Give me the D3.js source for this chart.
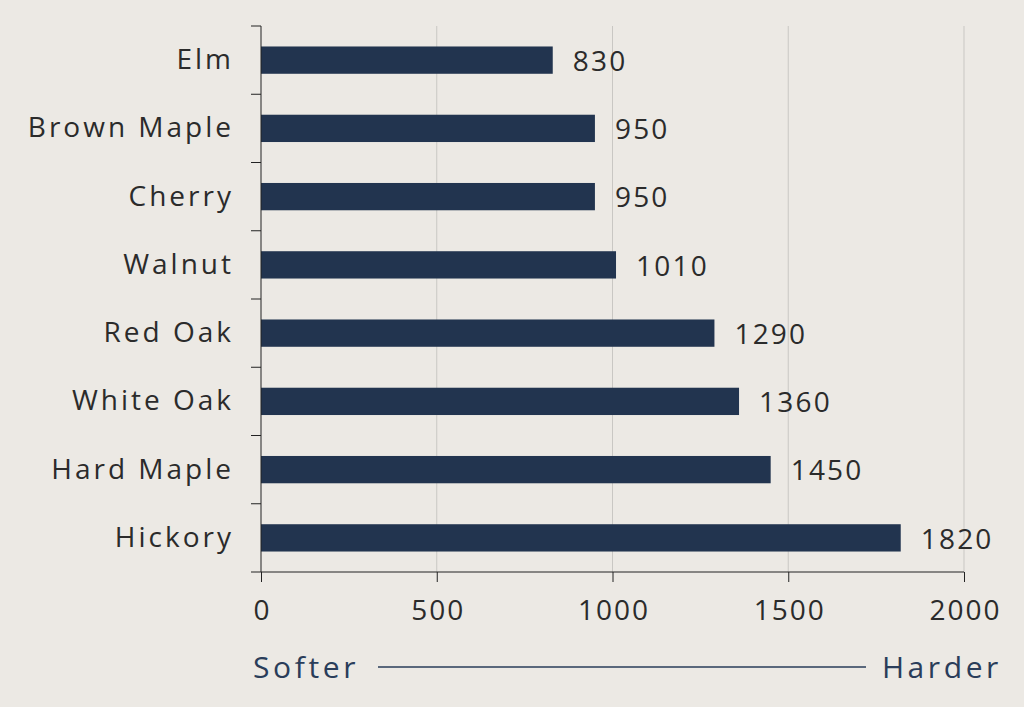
<!DOCTYPE html>
<html>
<head>
<meta charset="utf-8">
<script src="https://cdn.jsdelivr.net/npm/d3@7"></script>
<style>
  html, body { margin: 0; padding: 0; background: #ece9e4; }
  svg { display: block; font-family: "Open Sans", sans-serif; }
</style>
</head>
<body>
<svg width="1024" height="707"></svg>
<script>
// wood hardness (Janka), top to bottom
var woods = ['Elm', 'Brown Maple', 'Cherry', 'Walnut', 'Red Oak', 'White Oak', 'Hard Maple', 'Hickory'];
var hardness = [830, 950, 950, 1010, 1290, 1360, 1450, 1820];
var xTicks = [0, 500, 1000, 1500, 2000];

var svg = d3.select('svg');
var plotLeft = 261, plotRight = 964, plotTop = 26, plotBottom = 572;

var x = d3.scaleLinear().domain([0, 2000]).range([plotLeft, plotRight]);
var y = d3.scaleBand().domain(woods).range([plotTop, plotBottom])
  .paddingInner(0.6).paddingOuter(0.3);

var rows = woods.map(function (w, i) { return { name: w, value: hardness[i] }; });

// grid
svg.append('g').selectAll('line')
  .data(xTicks.slice(1))
  .enter().append('line')
  .attr('x1', function (d) { return x(d); })
  .attr('x2', function (d) { return x(d); })
  .attr('y1', plotTop)
  .attr('y2', plotBottom)
  .attr('stroke', '#c9c7c3')
  .attr('stroke-width', 1);

// bars
svg.append('g').selectAll('rect')
  .data(rows)
  .enter().append('rect')
  .attr('x', x(0))
  .attr('y', function (d) { return y(d.name); })
  .attr('width', function (d) { return x(d.value) - x(0); })
  .attr('height', y.bandwidth())
  .attr('fill', '#22344f');

// value labels
svg.append('g').selectAll('text')
  .data(rows)
  .enter().append('text')
  .attr('x', function (d) { return x(d.value) + 20; })
  .attr('y', function (d) { return y(d.name) + y.bandwidth() / 2; })
  .attr('dy', '0.38em')
  .attr('fill', '#2b2b2b')
  .style('font-size', '28px')
  .style('letter-spacing', '2.2px')
  .text(function (d) { return d.value; });

// x axis
var xAxis = svg.append('g')
  .attr('transform', 'translate(0,' + plotBottom + ')')
  .call(d3.axisBottom(x).tickValues(xTicks).tickFormat(d3.format('d'))
    .tickSize(10).tickPadding(18).tickSizeOuter(0));
xAxis.select('.domain').attr('stroke', '#222').attr('d', 'M' + (plotLeft - 10) + ',0H' + plotRight);
xAxis.selectAll('.tick line').attr('stroke', '#222');
xAxis.selectAll('text')
  .attr('fill', '#2b2b2b')
  .attr('dx', '1px')
  .style('font-size', '28px')
  .style('letter-spacing', '2px')
  .style('font-family', '"Open Sans", sans-serif');

// y axis
var yAxis = svg.append('g')
  .attr('transform', 'translate(' + plotLeft + ',0)')
  .call(d3.axisLeft(y).tickSize(0).tickPadding(27));
yAxis.select('.domain').attr('stroke', '#222').attr('d', 'M0,' + plotTop + 'V' + plotBottom);
yAxis.selectAll('text')
  .attr('fill', '#2b2b2b')
  .style('font-size', '28px')
  .style('letter-spacing', '3px')
  .style('font-family', '"Open Sans", sans-serif');

// boundary ticks between categories
var bounds = d3.range(woods.length).map(function (i) { return plotTop + i * y.step(); });
svg.append('g').selectAll('line')
  .data(bounds)
  .enter().append('line')
  .attr('x1', plotLeft - 10)
  .attr('x2', plotLeft)
  .attr('y1', function (d) { return d; })
  .attr('y2', function (d) { return d; })
  .attr('stroke', '#222');

// softer / harder
var note = svg.append('g').attr('fill', '#2a3d5a').style('font-size', '30px').style('letter-spacing', '3.6px');
note.append('text').attr('x', 253).attr('y', 678).text('Softer');
note.append('text').attr('x', 1002).attr('y', 678).attr('text-anchor', 'end').text('Harder');
note.append('line')
  .attr('x1', 378).attr('x2', 866)
  .attr('y1', 667).attr('y2', 667)
  .attr('stroke', '#2a3d5a').attr('stroke-width', 1.5);
</script>
</body>
</html>
